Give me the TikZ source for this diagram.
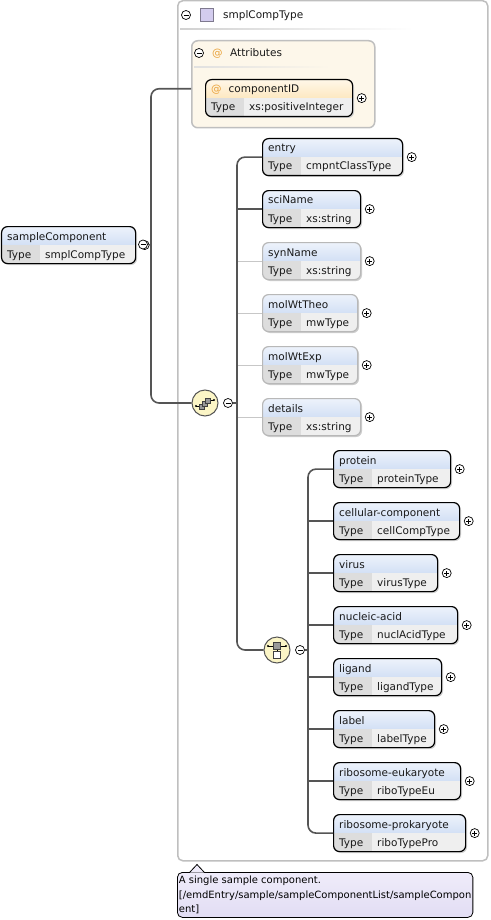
\documentclass[tikz,border=0pt]{standalone}
\usepackage{fontspec}
\setmainfont{DejaVu Sans}
\usetikzlibrary{positioning,calc}
\definecolor{hdtop}{HTML}{EDF2FB}
\definecolor{hdbot}{HTML}{B8CDEF}
\definecolor{attop}{HTML}{FFF7E8}
\definecolor{atbot}{HTML}{FBD99A}
\definecolor{typecell}{HTML}{DDDDDD}
\definecolor{valcell}{HTML}{EFEFEF}
\definecolor{atfill}{HTML}{FDF7EA}
\definecolor{atsign}{HTML}{E9A23B}
\definecolor{linkc}{HTML}{555555}
\definecolor{compfill}{HTML}{FBF5C6}
\definecolor{tiptop}{HTML}{EFECFA}
\definecolor{tipbot}{HTML}{E2DDF4}
\definecolor{typesq}{HTML}{D3CCEE}
\tikzset{
  elbox/.style     ={draw=black,line width=1.2pt,rounded corners=6pt,anchor=north west,minimum height=37pt,inner sep=0pt,
                     path picture={
                       \shade[hdshade,sharp corners] (path picture bounding box.north west) rectangle ([yshift=-18pt]path picture bounding box.north east);
                       \fill[typecell,sharp corners] ([yshift=-18pt]path picture bounding box.north west) rectangle ([xshift=38pt]path picture bounding box.south west);
                       \fill[valcell,sharp corners] ([xshift=38pt,yshift=-18pt]path picture bounding box.north west) rectangle (path picture bounding box.south east);}},
  opt/.style       ={draw=black!28},
  hdshade/.style   ={top color=hdtop,bottom color=hdbot},
  atshade/.style   ={hdshade/.style={top color=attop,bottom color=atbot}},
  eltext/.style    ={anchor=base west,inner sep=0pt,text=black!90,font=\fontsize{10.5}{12}\selectfont},
  elshadow/.style  ={fill=black!20,rounded corners=6pt},
  plusmark/.style  ={circle,draw=black,line width=.7pt,fill=white,minimum size=9pt,inner sep=0pt,
                     path picture={\draw[line width=.7pt] ([xshift=-2.5pt]path picture bounding box.center) -- ([xshift=2.5pt]path picture bounding box.center)
                       ([yshift=-2.5pt]path picture bounding box.center) -- ([yshift=2.5pt]path picture bounding box.center);}},
  minusmark/.style ={circle,draw=black,line width=.7pt,fill=white,minimum size=9pt,inner sep=0pt,
                     path picture={\draw[line width=.7pt] ([xshift=-2.5pt]path picture bounding box.center) -- ([xshift=2.5pt]path picture bounding box.center);}},
  link/.style      ={draw=linkc,line width=1.6pt,rounded corners=8pt},
  optlink/.style   ={draw=black!22,line width=.8pt},
  compositor/.style={circle,draw=linkc,line width=1pt,fill=compfill,minimum size=26pt,inner sep=0pt},
  iconbox/.style   ={draw=black!75,line width=.6pt,fill=black!40},
  typebox/.style   ={draw=black!25,line width=1.5pt,rounded corners=5pt,fill=white,anchor=north west,inner sep=0pt},
  groupbox/.style  ={draw=black!25,line width=1.5pt,rounded corners=6pt,fill=atfill,anchor=north west,inner sep=0pt},
  tipbox/.style    ={draw=black,line width=.8pt,rounded corners=5pt,top color=tiptop,bottom color=tipbot,anchor=north west,
                     align=left,inner sep=1.5pt,minimum width=295pt,minimum height=45pt,font=\fontsize{10}{14.5}\selectfont}
}
% element box: [options]{name}{x}{y}{width}{label}{type}
\newcommand\elem[7][]{%
  \fill[elshadow] ({#3+2},{-#4-2}) rectangle ++(#5,-37);
  \node[elbox,minimum width=#5,#1] (#2) at (#3,-#4) {};
  \node[eltext] (#2-n) at ([xshift=6pt,yshift=-14pt]#2.north west) {#6};
  \node[eltext] (#2-k) at ([xshift=6pt,yshift=-32pt]#2.north west) {Type};
  \node[eltext] (#2-t) at ([xshift=44pt,yshift=-32pt]#2.north west) {#7};
  \node[plusmark] (#2-p) at ([xshift=8.5pt]#2.east) {};
}

\begin{document}
\begin{tikzpicture}[x=1pt,y=1pt]
  \useasboundingbox (0,0) rectangle (490,-920);
  % complex type frame
  \node[typebox,minimum width=310pt,minimum height=860pt] (ct) at (177,0) {};
  \node[minusmark] (ct-m) at (186,-15) {};
  \node[draw=typesq!60!black,fill=typesq,minimum size=13pt,inner sep=0pt] (ct-sq) at (206.5,-14.5) {};
  \node[eltext] (ct-n) at (223,-18.5) {smplCompType};
  \shade[left color=black!18,right color=white] (180,-28.5) rectangle (413,-30);
  % attributes
  \node[groupbox,minimum width=183pt,minimum height=87pt] (attrs) at (191,-40) {};
  \node[minusmark] (at-m) at (199,-53) {};
  \node[eltext,text=atsign] (at-s) at (212,-57) {@};
  \node[eltext] (at-n) at (230,-57) {Attributes};
  \shade[left color=black!12,right color=atfill] (194,-66.5) rectangle (330,-68);
  \elem[atshade]{cid}{205}{79}{147}{{\color{atsign}@}\hspace{7pt}componentID}{xs:positiveInteger}
  % root element
  \elem{sc}{1}{226}{134}{sampleComponent}{smplCompType}
  \node[minusmark] (sc-m) at (143,-244.5) {};
  % sequence
  \elem{entry}{262}{138}{140}{entry}{cmpntClassType}
  \elem{sciName}{262}{190}{98}{sciName}{xs:string}
  \elem[opt]{synName}{262}{242}{98}{synName}{xs:string}
  \elem[opt]{molWtTheo}{262}{294}{95}{molWtTheo}{mwType}
  \elem[opt]{molWtExp}{262}{346}{95}{molWtExp}{mwType}
  \elem[opt]{details}{262}{398}{98}{details}{xs:string}
  % choice
  \elem{protein}{333}{450}{117}{protein}{proteinType}
  \elem{cellComp}{333}{502}{126}{cellular-component}{cellCompType}
  \elem{virus}{333}{554}{104}{virus}{virusType}
  \elem{nuclAcid}{333}{606}{124}{nucleic-acid}{nuclAcidType}
  \elem{ligand}{333}{658}{108}{ligand}{ligandType}
  \elem{label}{333}{710}{101}{label}{labelType}
  \elem{riboEu}{333}{762}{127}{ribosome-eukaryote}{riboTypeEu}
  \elem{riboPro}{333}{814}{132}{ribosome-prokaryote}{riboTypePro}
  % compositors
  \node[compositor] (seq) at (205,-403) {};
  \node[minusmark] (seq-m) at (228,-403) {};
  \node[compositor] (choice) at (277,-650) {};
  \node[minusmark] (choice-m) at (300,-650) {};
  \begin{scope}[shift={(seq.center)}]
    \draw[line width=.7pt] (-9,-3) -- (-3,-3) (3,3) -- (9,3);
    \fill (-9,-3) circle (1.2) (9,3) circle (1.2);
    \draw[iconbox] (-6,-6) rectangle (-1,-1);
    \draw[iconbox] (-3,-3) rectangle (2,2);
    \draw[iconbox] (0,0) rectangle (5,5);
  \end{scope}
  \begin{scope}[shift={(choice.center)}]
    \draw[line width=.7pt] (-9,4) -- (9,4) (0,1) -- (0,-1);
    \fill (-9,4) circle (1.2) (9,4) circle (1.2);
    \draw[iconbox] (-3.5,0.5) rectangle (3.5,7.5);
    \draw[iconbox,fill=white] (-3.5,-8.5) rectangle (3.5,-1.5);
  \end{scope}
  % connectors
  \coordinate (t1) at (151,-244.5);
  \coordinate (t2) at (237,-403);
  \coordinate (t3) at (308,-650);
  \draw[link] ([yshift=-4.5pt]attrs.west) -| (t1) |- (seq.west);
  \draw[link] (sc-m.east) -- (t1);
  \draw[optlink] (synName.west) -- (synName.west -| t2);
  \draw[optlink] (molWtTheo.west) -- (molWtTheo.west -| t2);
  \draw[optlink] (molWtExp.west) -- (molWtExp.west -| t2);
  \draw[optlink] (details.west) -- (details.west -| t2);
  \draw[link] (seq-m.east) -- (t2);
  \draw[link] (entry.west) -| (t2) |- (choice.west);
  \draw[link] (sciName.west) -- (sciName.west -| t2);
  \draw[link] (choice-m.east) -- (t3);
  \draw[link] (protein.west) -| (t3) |- (riboPro.west);
  \draw[link] (cellComp.west) -- (cellComp.west -| t3);
  \draw[link] (virus.west) -- (virus.west -| t3);
  \draw[link] (nuclAcid.west) -- (nuclAcid.west -| t3);
  \draw[link] (ligand.west) -- (ligand.west -| t3);
  \draw[link] (label.west) -- (label.west -| t3);
  \draw[link] (riboEu.west) -- (riboEu.west -| t3);
  % annotation
  \node[tipbox] (tip) at (177,-872) {A single sample component.\\{[}/emdEntry/sample/sampleComponentList/sampleCompon\\ent]};
  \fill[tiptop] ([xshift=13pt,yshift=-.6pt]tip.north west) -- ([xshift=20pt,yshift=7.5pt]tip.north west) -- ([xshift=27pt,yshift=-.6pt]tip.north west) -- cycle;
  \draw[line width=.8pt] ([xshift=13pt]tip.north west) -- ([xshift=20pt,yshift=7.5pt]tip.north west) -- ([xshift=27pt]tip.north west);
\end{tikzpicture}
\end{document}
